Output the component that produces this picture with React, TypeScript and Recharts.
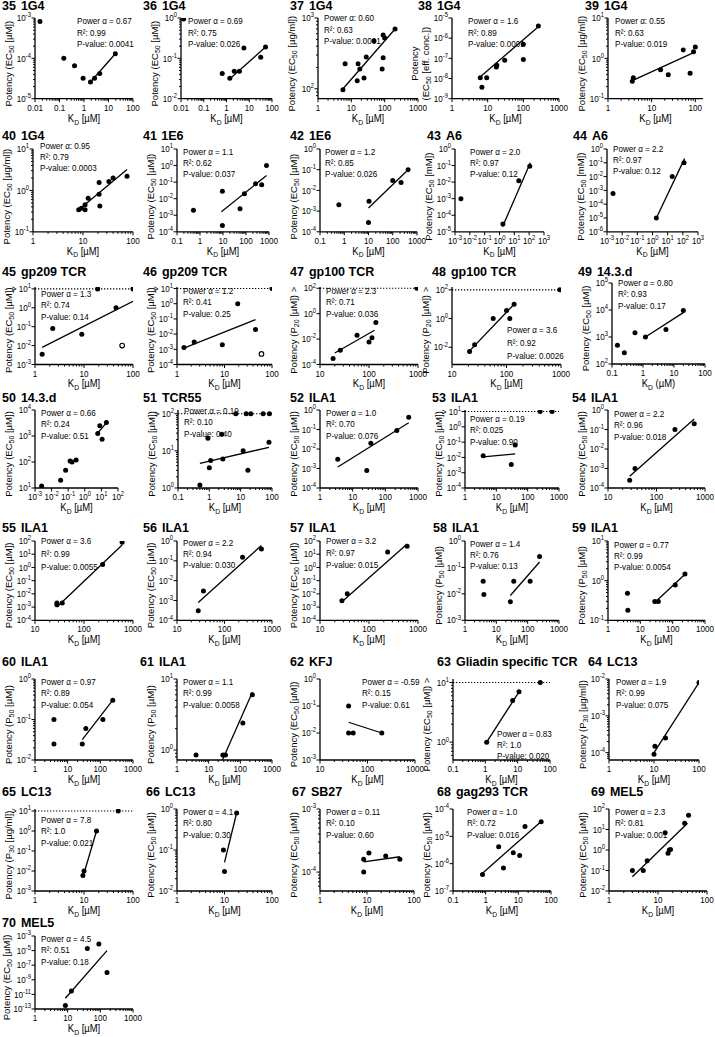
import { ScatterChart, Scatter, XAxis, YAxis, ReferenceLine } from 'recharts';

// Potency vs K_D panels 35–70. Each panel: [K_D, potency] points,
// f = end points of the drawn power-law fit, o = open (excluded) points.

type Pt = [number, number];

const d35: Pt[] = [[0.016, 8.2e-4], [0.15, 1.0e-4], [0.41, 6.6e-5], [0.92, 3.2e-5], [1.84, 2.6e-5], [2.7, 3.2e-5], [4.4, 4.2e-5], [19, 1.3e-4]];
const f35: Pt[] = [[1.84, 2.6e-5], [19, 1.3e-4]];
const d36: Pt[] = [[0.013, 0.94], [0.65, 0.042], [1.4, 0.032], [2.2, 0.048], [3.7, 0.048], [5.8, 0.18], [32, 0.106], [52, 0.19]];
const f36: Pt[] = [[1.3, 0.03], [52, 0.19]];
const d37: Pt[] = [[5.6, 97], [6.5, 225], [15, 130], [16, 225], [18, 190], [24, 142], [28, 282], [48, 475], [84, 190], [90, 275], [90, 575], [100, 520], [205, 700]];
const f37: Pt[] = [[5.3, 97], [205, 700]];
const d38: Pt[] = [[6.2, 1.1e-8], [6.9, 3.7e-9], [9.4, 1.1e-8], [17.5, 3.7e-8], [18, 4.5e-8], [30, 8e-8], [100, 5e-7], [100, 8.7e-8], [264, 4e-6]];
const f38: Pt[] = [[6.6, 1.35e-8], [240, 3.2e-6]];
const d39: Pt[] = [[3.6, 0.27], [3.8, 0.33], [16, 0.52], [24, 0.39], [53, 1.6], [76, 0.43], [91, 1.45], [100, 1.9]];
const f39: Pt[] = [[3.6, 0.28], [100, 1.45]];
const d40: Pt[] = [[8.2, 0.34], [9.3, 0.37], [11, 0.34], [11, 0.45], [12.7, 0.65], [21, 1.56], [21, 0.81], [21.7, 0.42], [33, 1.65], [40, 2.0], [76, 2.2]];
const f40: Pt[] = [[8, 0.33], [76, 3.2]];
const d41: Pt[] = [[0.52, 2e-3], [9.4, 0.028], [9.4, 2.4e-4], [55, 2.5e-3], [85, 0.02], [260, 0.08], [480, 0.07], [780, 1.0]];
const f41: Pt[] = [[8.5, 1.6e-3], [780, 0.25]];
const d42: Pt[] = [[0.6, 2e-3], [10.5, 3e-3], [10, 2.8e-4], [100, 0.03], [220, 0.024], [430, 0.1]];
const f42: Pt[] = [[10, 1.4e-3], [430, 0.1]];
const d43: Pt[] = [[0.0025, 1e-3], [1.7, 3e-5], [20, 0.012], [110, 0.09]];
const f43: Pt[] = [[1.6, 2e-5], [120, 0.15]];
const d44: Pt[] = [[0.0025, 5.9e-4], [1.8, 1e-5], [20, 1e-2], [120, 0.1]];
const f44: Pt[] = [[1.8, 1e-5], [130, 0.2]];
const d45: Pt[] = [[1.4, 3.5e-3], [2.3, 0.08], [9, 0.04], [19, 10], [45, 1.0], [100, 10]];
const o45: Pt[] = [[60, 0.01]];
const f45: Pt[] = [[1.4, 8e-3], [100, 2.2]];
const d46: Pt[] = [[1.4, 1.3e-3], [2.3, 3e-3], [9, 2e-3], [19, 1.0], [45, 0.02], [100, 10]];
const o46: Pt[] = [[60, 5e-4]];
const f46: Pt[] = [[1.4, 1.2e-3], [45, 0.09]];
const d47: Pt[] = [[18.5, 3e-4], [26, 1.3e-3], [57, 0.02], [100, 6e-3], [115, 0.013], [138, 0.2], [950, 100]];
const f47: Pt[] = [[20, 8e-4], [130, 0.05]];
const d48: Pt[] = [[21, 5e-3], [26, 0.015], [57, 1.0], [100, 3.6], [115, 1.0], [138, 10], [950, 100]];
const f48: Pt[] = [[20, 4.6e-3], [138, 10]];
const d49: Pt[] = [[0.15, 500], [0.25, 260], [0.55, 1450], [1.2, 1000], [5.5, 1900], [20, 9500]];
const f49: Pt[] = [[1.2, 1000], [20, 8000]];
const d50: Pt[] = [[0.0025, 12], [0.035, 20], [0.07, 48], [0.13, 110], [0.17, 100], [0.3, 120], [6, 1250], [8, 2500], [11, 750], [20, 3300]];
const f50: Pt[] = [[6, 1300], [20, 3200]];
const d51: Pt[] = [[0.5, 1.2], [0.9, 22], [1.0, 3.5], [1.1, 5.5], [2.5, 28], [2.7, 6], [12, 10], [17, 3], [80, 17], [7, 100], [15, 100], [21, 100], [52, 100], [83, 100]];
const f51: Pt[] = [[0.5, 4.6], [80, 12.5]];
const d52: Pt[] = [[3.5, 3e-3], [27, 8e-4], [36, 0.02], [225, 0.09], [520, 0.43]];
const f52: Pt[] = [[3.5, 1.2e-3], [520, 0.22]];
const d53: Pt[] = [[3.8, 0.013], [30, 3.5e-3], [40, 0.065], [250, 10], [600, 10]];
const f53: Pt[] = [[3.8, 0.011], [40, 0.017]];
const d54: Pt[] = [[28, 2.5e-4], [36, 1e-3], [240, 0.1], [600, 0.2]];
const f54: Pt[] = [[28, 4e-4], [600, 0.35]];
const d55: Pt[] = [[28, 2e-3], [28, 1.5e-3], [36, 2e-3], [240, 1.7], [600, 80]];
const f55: Pt[] = [[28, 1e-3], [600, 50]];
const d56: Pt[] = [[28, 3e-4], [36, 3e-3], [240, 0.15], [600, 0.4]];
const f56: Pt[] = [[28, 8e-4], [600, 0.6]];
const d57: Pt[] = [[28, 3e-3], [36, 1e-2], [240, 15], [600, 40]];
const f57: Pt[] = [[28, 2.5e-3], [600, 60]];
const d58: Pt[] = [[3.8, 0.03], [4, 0.0095], [28, 5e-3], [36, 0.03], [120, 0.03], [240, 0.26]];
const f58: Pt[] = [[28, 0.0087], [240, 0.16]];
const d59: Pt[] = [[4, 0.48], [4.1, 0.18], [28, 0.3], [36, 0.3], [120, 0.78], [240, 1.47]];
const f59: Pt[] = [[28, 0.28], [250, 1.5]];
const d60: Pt[] = [[3.8, 0.1], [3.8, 0.025], [28, 0.025], [36, 0.06], [120, 0.1], [240, 0.3]];
const f60: Pt[] = [[28, 0.032], [240, 0.3]];
const d61: Pt[] = [[4, 0.85], [28, 0.85], [34, 0.85], [120, 2.4], [240, 6]];
const f61: Pt[] = [[27, 0.72], [240, 6.5]];
const d62: Pt[] = [[40, 0.1], [40, 0.01], [50, 0.01], [200, 0.01]];
const f62: Pt[] = [[40, 0.025], [200, 0.01]];
const d63: Pt[] = [[1.1, 1.0], [7, 5], [11, 7], [50, 10]];
const f63: Pt[] = [[1.1, 1.0], [11, 7]];
const d64: Pt[] = [[10, 9e-5], [10.5, 1.5e-4], [18, 2.5e-4], [100, 8e-3]];
const f64: Pt[] = [[10, 1e-4], [100, 8e-3]];
const d65: Pt[] = [[9.5, 6e-3], [10, 1e-2], [18, 1.0], [50, 10]];
const f65: Pt[] = [[9.5, 5e-3], [18, 1.0]];
const d66: Pt[] = [[9.5, 0.1], [10, 0.03], [18, 0.8]];
const f66: Pt[] = [[10, 0.05], [18, 0.8]];
const d67: Pt[] = [[8.5, 1.6e-4], [8.5, 1e-4], [11, 2e-4], [25, 1.8e-4], [50, 1.6e-4]];
const f67: Pt[] = [[8.5, 1.45e-4], [50, 1.75e-4]];
const d68: Pt[] = [[0.8, 4e-7], [2.5, 4.2e-6], [3.5, 7e-7], [7, 2.5e-6], [11, 2e-6], [16, 2.3e-5], [50, 3.4e-5]];
const f68: Pt[] = [[0.8, 4.5e-7], [50, 3.5e-5]];
const d69: Pt[] = [[3, 0.1], [5, 0.1], [6, 0.3], [14, 7], [16, 0.7], [17, 1], [18, 1.05], [35, 20], [42, 50]];
const f69: Pt[] = [[3, 0.05], [40, 20]];
const d70: Pt[] = [[8.5, 3e-13], [13, 3e-11], [40, 2e-5], [90, 8e-5], [160, 1e-8]];
const f70: Pt[] = [[8.5, 3e-12], [160, 1e-5]];

// y-axis label variants
const EC_UM = { q: 'EC', s: '50', u: 'µM' };
const EC_UG = { q: 'EC', s: '50', u: 'µg/ml' };
const EC_MM = { q: 'EC', s: '50', u: 'mM' };
const EC_EFF = { q: 'EC', s: '50', u: 'eff. conc.', two: true };
const P20 = { q: 'P', s: '20', u: 'µM', gt: true };
const P50 = { q: 'P', s: '50', u: 'µM' };
const P30 = { q: 'P', s: '30', u: 'µg/ml' };
const EC_GT = { q: 'EC', s: '50', u: 'µM', gt: true };

const st = (a: string, r: string, p: string, colon = false) => [`Power α${colon ? ':' : ' ='} ${a}`, `R²: ${r}`, `P-value: ${p}`];

// xd / yd: log10 domain, yt: labelled y exponents (default every decade), cap: ">" limit line
const panels: any[] = [
  { id: 35, name: '1G4', d: d35, f: f35, xd: [-2, 2], yd: [-5, -3], yl: EC_UM, s: st('0.67', '0.99', '0.0041') },
  { id: 36, name: '1G4', d: d36, f: f36, xd: [-2, 2], yd: [-2, 0], yl: EC_UM, s: st('0.69', '0.75', '0.026') },
  { id: 37, name: '1G4', d: d37, f: f37, xd: [0, 3], yd: [1.86, 3], yt: [2, 3], yl: EC_UG, s: st('0.60', '0.63', '0.0001', true) },
  { id: 38, name: '1G4', d: d38, f: f38, xd: [0, 3], yd: [-9, -5], yl: EC_EFF, s: st('1.6', '0.89', '0.0001') },
  { id: 39, name: '1G4', d: d39, f: f39, xd: [0, Math.log10(150)], yd: [-1, 1], yl: EC_UG, s: st('0.55', '0.63', '0.019', true) },
  { id: 40, name: '1G4', d: d40, f: f40, xd: [0, 2], yd: [-1, 1], yl: EC_UG, s: st('0.95', '0.79', '0.0003', true) },
  { id: 41, name: '1E6', d: d41, f: f41, xd: [-1, 3], yd: [-4, 1], yl: EC_UM, s: st('1.1', '0.62', '0.037') },
  { id: 42, name: '1E6', d: d42, f: f42, xd: [-1, 3], yd: [-4, 0], yl: EC_UM, s: st('1.2', '0.85', '0.026') },
  { id: 43, name: 'A6', d: d43, f: f43, xd: [-3, 3], xPow: true, yd: [-5, 0], yl: EC_MM, s: st('2.0', '0.97', '0.12') },
  { id: 44, name: 'A6', d: d44, f: f44, xd: [-3, 3], xPow: true, yd: [-6, 0], yl: EC_MM, s: st('2.2', '0.97', '0.12') },
  { id: 45, name: 'gp209 TCR', d: d45, f: f45, o: o45, xd: [0, 2], yd: [-3, 1.1], yt: [-3, -2, -1, 0, 1], cap: 10, capTick: true, yl: EC_UM, s: st('1.3', '0.74', '0.14') },
  { id: 46, name: 'gp209 TCR', d: d46, f: f46, o: o46, xd: [0, 2], yd: [-4, 1.1], yt: [-4, -3, -2, -1, 0, 1], cap: 10, capTick: true, yl: EC_UM, s: st('1.2', '0.41', '0.25') },
  { id: 47, name: 'gp100 TCR', d: d47, f: f47, xd: [1, 3], yd: [-4, 2.1], yt: [-4, -2, 0, 2], cap: 100, yl: P20, s: st('2.3', '0.71', '0.036') },
  { id: 48, name: 'gp100 TCR', d: d48, f: f48, xd: [1, 3], yd: [-3.2, 2.2], yt: [-2, 0, 2], cap: 100, yl: P20, s: st('3.6', '0.92', '0.0026') },
  { id: 49, name: '14.3.d', d: d49, f: f49, xd: [-1, 2], yd: [2, 5], yl: EC_UM, paren: true, s: st('0.80', '0.93', '0.17') },
  { id: 50, name: '14.3.d', d: d50, f: f50, xd: [-3, 2], xPow: true, yd: [1, 4], yl: EC_UM, s: st('0.66', '0.24', '0.51') },
  { id: 51, name: 'TCR55', d: d51, f: f51, xd: [-1, 2], yd: [0, 2.1], yt: [0, 1, 2], cap: 100, capTick: true, yl: EC_UM, s: st('0.19', '0.10', '0.40') },
  { id: 52, name: 'ILA1', d: d52, f: f52, xd: [0, 3], yd: [-4, 0], yl: EC_UM, s: st('1.0', '0.70', '0.076') },
  { id: 53, name: 'ILA1', d: d53, f: f53, xd: [0, 3], yd: [-4, 1.1], yt: [-4, -3, -2, -1, 0, 1], cap: 10, capTick: true, yl: EC_UM, s: st('0.19', '0.025', '0.90') },
  { id: 54, name: 'ILA1', d: d54, f: f54, xd: [1, 3], yd: [-4, 0], yl: EC_UM, s: st('2.2', '0.96', '0.018') },
  { id: 55, name: 'ILA1', d: d55, f: f55, xd: [1, 3], yd: [-4, 2], yl: EC_UM, s: st('3.6', '0.99', '0.0055') },
  { id: 56, name: 'ILA1', d: d56, f: f56, xd: [1, 3], yd: [-4, 0], yl: EC_UM, s: st('2.2', '0.94', '0.030') },
  { id: 57, name: 'ILA1', d: d57, f: f57, xd: [1, 3], yd: [-4, 2], yl: EC_UM, s: st('3.2', '0.97', '0.015') },
  { id: 58, name: 'ILA1', d: d58, f: f58, xd: [0, 3], yd: [-3, 0], yl: P50, s: st('1.4', '0.76', '0.13') },
  { id: 59, name: 'ILA1', d: d59, f: f59, xd: [0, 3], yd: [-1, 1], yl: P50, s: st('0.77', '0.99', '0.0054') },
  { id: 60, name: 'ILA1', d: d60, f: f60, xd: [0, 3], yd: [-2, 0], yl: P50, s: st('0.97', '0.89', '0.054') },
  { id: 61, name: 'ILA1', d: d61, f: f61, xd: [0, 3], yd: [-0.14, 1], yt: [0, 1], yl: P50, s: st('1.1', '0.99', '0.0058') },
  { id: 62, name: 'KFJ', d: d62, f: f62, xd: [1, 3], yd: [-3, 0], yl: EC_UM, s: st('-0.59', '0.15', '0.61') },
  { id: 63, name: 'Gliadin specific TCR', d: d63, f: f63, xd: [-1, 2], yd: [-0.3, 1.06], yt: [0, 1], cap: 10, yl: EC_GT, s: st('0.83', '1.0', '0.020') },
  { id: 64, name: 'LC13', d: d64, f: f64, xd: [0, 2], yd: [-4.2, -2], yt: [-4, -3, -2], yl: P30, s: st('1.9', '0.99', '0.075') },
  { id: 65, name: 'LC13', d: d65, f: f65, xd: [0, 2], yd: [-3, 1.1], yt: [-3, -2, -1, 0, 1], cap: 10, capTick: true, yl: P30, s: st('7.8', '1.0', '0.021') },
  { id: 66, name: 'LC13', d: d66, f: f66, xd: [0, 2], yd: [-2, 0], yl: EC_UM, s: st('4.1', '0.80', '0.30') },
  { id: 67, name: 'SB27', d: d67, f: f67, xd: [0, 2], yd: [-4.3, -3], yt: [-4, -3], yl: EC_UM, s: st('0.11', '0.10', '0.60') },
  { id: 68, name: 'gag293 TCR', d: d68, f: f68, xd: [-1, 2], yd: [-7, -4], yl: EC_UM, s: st('1.0', '0.72', '0.016') },
  { id: 69, name: 'MEL5', d: d69, f: f69, xd: [0, 2], yd: [-2, 2], yl: EC_UM, s: st('2.3', '0.81', '0.001') },
  { id: 70, name: 'MEL5', d: d70, f: f70, xd: [0, 3], yd: [-13, -3], yt: [-13, -11, -9, -7, -5, -3], yl: EC_UM, s: st('4.5', '0.51', '0.18') },
];

// ---- layout (page px) ----
const rows = [
  { ty: 9.5, top: 18.3, bot: 99, yc: 5 },
  { ty: 139.5, top: 148.7, bot: 231.5, yc: 6.5 },
  { ty: 276, top: 286.5, bot: 364, yc: 5 },
  { ty: 402, top: 410, bot: 488, yc: 5 },
  { ty: 532, top: 540.7, bot: 620, yc: 5 },
  { ty: 666, top: 679, bot: 760, yc: 5 },
  { ty: 796, top: 809, bot: 891, yc: 5 },
  { ty: 927, top: 936, bot: 1009, yc: 5 },
];
const cols = [
  { tx: 2, left: 35, right: 133 },
  { tx: 143, left: 177, right: 272 },
  { tx: 290, left: 320, right: 418 },
  { tx: 430, left: 463, right: 559 },
  { tx: 573, left: 608, right: 705 },
];
const geoFix: Record<number, any> = {
  35: { ax: 42 },
  36: { left: 181, ax: 7 },
  37: { left: 318, ay: 3 },
  38: { tx: 418, left: 452, right: 559, ax: 16 },
  39: { tx: 585, right: 703, ax: 7 },
  40: { left: 33, ay: 0, ax: 7 },
  41: { right: 269 },
  42: { right: 417, ax: 5 },
  43: { tx: 427, left: 455, right: 544, ax: 15 },
  44: { tx: 573, left: 607, right: 698, ay: 3 },
  45: { ay: 10.5 },
  46: { ay: 7.5 },
  47: { ay: 7.5 },
  48: { tx: 432, left: 452, right: 561, sx: 507, sy: 333, sp: 13 },
  49: { tx: 578, left: 612, top: 283, ay: 3 },
  50: { right: 118 },
  51: { left: 178, ay: 4 },
  53: { tx: 432, left: 465, ax: 5, ay: 12 },
  54: { tx: 572, ay: 7 },
  55: { ay: 3, sp: 13 },
  56: { ay: 5 },
  57: { ay: 3, sp: 12 },
  58: { tx: 433, left: 465, ax: 5 },
  59: { tx: 572, ay: 7 },
  61: { tx: 140 },
  62: { right: 415, ax: 42 },
  63: { tx: 437, left: 453, right: 550, sx: 497, sy: 737, sp: 11 },
  64: { tx: 588, left: 609, right: 699, ax: 7 },
  65: { ay: 14 },
  66: { tx: 146 },
  67: { tx: 292, right: 414 },
  68: { tx: 437, left: 453, right: 551, ax: 14 },
  69: { tx: 591, left: 609, right: 707 },
  70: { ylo: 25 },
};

const geoOf = (id: number, i: number) => ({
  ...rows[Math.floor(i / 5)],
  ...cols[i % 5],
  ax: 6,
  ay: 6,
  sp: 11.3,
  ylo: 23,
  ...(geoFix[id] || {}),
});

const FONT = "'Liberation Sans', Arial, Helvetica, sans-serif";
const SX = 0.9;

const range = (a: number, b: number, step = 1) => {
  const out: number[] = [];
  for (let v = a; v <= b + 1e-9; v += step) out.push(v);
  return out;
};

function logTicks(d: number[], maj: number[], minor: boolean) {
  const out: number[] = [];
  for (let e = Math.floor(d[0]); e <= Math.ceil(d[1]); e++) {
    if (maj.includes(e)) out.push(Math.pow(10, e));
    if (minor) for (let k = 2; k <= 9; k++) out.push(k * Math.pow(10, e));
  }
  const lo = Math.pow(10, d[0]) * 0.9999;
  const hi = Math.pow(10, d[1]) * 1.0001;
  return out.filter((v) => v >= lo && v <= hi);
}

const majorExp = (v: number, maj: number[]) => {
  const e = Math.log10(v);
  const r = Math.round(e);
  return Math.abs(e - r) < 1e-6 && maj.includes(r) ? r : null;
};

const decLabel = (e: number) => (e < 0 ? '0.' + '0'.repeat(-e - 1) + '1' : '1' + '0'.repeat(e));

function XTick(props: any) {
  const { x, y, payload, maj, pow } = props;
  const e = majorExp(payload.value, maj);
  return (
    <g>
      <line x1={x} x2={x} y1={y} y2={y + (e === null ? 2 : 3.5)} stroke="#000" strokeWidth={1} />
      {e !== null && (
        <text transform={`translate(${x} ${y + 12}) scale(${SX} 1)`} textAnchor="middle" fontSize={9} fontFamily={FONT} fill="#000">
          {pow ? (
            <>
              10<tspan dy={-3.8} fontSize={6.5}>{e}</tspan>
            </>
          ) : (
            decLabel(e)
          )}
        </text>
      )}
    </g>
  );
}

function YTick(props: any) {
  const { x, y, payload, maj, gtExp } = props;
  const e = majorExp(payload.value, maj);
  return (
    <g>
      <line x1={x} x2={x - (e === null ? 2 : 3.5)} y1={y} y2={y} stroke="#000" strokeWidth={1} />
      {e !== null && (
        <text transform={`translate(${x - 4} ${y + 3.2}) scale(${SX} 1)`} textAnchor="end" fontSize={9} fontFamily={FONT} fill="#000">
          {e === gtExp ? '> ' : ''}10<tspan dy={-3.8} fontSize={6.5}>{e}</tspan>
        </text>
      )}
    </g>
  );
}

const Dot = (p: any) => <circle cx={p.cx} cy={p.cy} r={2.5} fill="#000" />;
const Ring = (p: any) => <circle cx={p.cx} cy={p.cy} r={2.3} fill="#fff" stroke="#000" strokeWidth={1.1} />;
const NoDot = () => <g />;

const toXY = (a: Pt[]) => a.map(([x, y]) => ({ x, y }));

function Panel({ p, g }: { p: any; g: any }) {
  const L = 42;
  const T = 8;
  const R = 12;
  const B = 28;
  const w = g.right - g.left;
  const h = g.bot - g.top;
  const xMaj = range(Math.ceil(p.xd[0] - 1e-9), Math.floor(p.xd[1] + 1e-9));
  const yMaj = p.yt || range(Math.ceil(p.yd[0] - 1e-9), Math.floor(p.yd[1] + 1e-9));
  const xMinor = w / (p.xd[1] - p.xd[0]) > 18;
  const yMinor = p.yd[1] - p.yd[0] <= 2.2;
  const xTicks = logTicks(p.xd, xMaj, xMinor);
  const yTicks = logTicks(p.yd, yMaj, yMinor);
  const gtExp = p.capTick ? Math.round(Math.log10(p.cap)) : null;
  return (
    <div style={{ position: 'absolute', left: g.left - L, top: g.top - T }}>
      <ScatterChart width={w + L + R} height={h + T + B} margin={{ top: T, right: R, bottom: 0, left: 0 }} style={{ overflow: 'visible' }}>
        <XAxis
          type="number"
          dataKey="x"
          scale="log"
          domain={[Math.pow(10, p.xd[0]), Math.pow(10, p.xd[1])]}
          allowDataOverflow
          ticks={xTicks}
          interval={0}
          height={B}
          tickSize={0}
          tickMargin={0}
          tickLine={false}
          axisLine={{ stroke: '#000', strokeWidth: 1.3 }}
          tick={(tp: any) => <XTick {...tp} maj={xMaj} pow={p.xPow} />}
        />
        <YAxis
          type="number"
          dataKey="y"
          scale="log"
          domain={[Math.pow(10, p.yd[0]), Math.pow(10, p.yd[1])]}
          allowDataOverflow
          ticks={yTicks}
          interval={0}
          width={L}
          tickSize={0}
          tickMargin={0}
          tickLine={false}
          axisLine={{ stroke: '#000', strokeWidth: 1.3 }}
          tick={(tp: any) => <YTick {...tp} maj={yMaj} gtExp={gtExp} />}
        />
        {p.cap && <ReferenceLine y={p.cap} stroke="#000" strokeWidth={1.1} strokeDasharray="1.3 1.7" />}
        <Scatter data={toXY(p.f)} line={{ stroke: '#000', strokeWidth: 1.3 }} shape={NoDot} isAnimationActive={false} />
        <Scatter data={toXY(p.d)} shape={Dot} isAnimationActive={false} />
        {p.o && <Scatter data={toXY(p.o)} shape={Ring} isAnimationActive={false} />}
      </ScatterChart>
    </div>
  );
}

function Labels({ p, g }: { p: any; g: any }) {
  const cx = (g.left + g.right) / 2;
  const cy = (g.top + g.bot) / 2 + g.yc;
  const ylx = g.left - g.ylo;
  const yl = p.yl;
  const sx = g.sx ?? g.left + g.ax;
  const sy = g.sy ?? g.top + g.ay;
  const YF = 9.5;
  const potency = (
    <>
      ({yl.q}
      <tspan dy={2.4} fontSize={7}>{yl.s}</tspan>
      <tspan dy={-2.4}>{` [${yl.u}])${yl.gt ? ' >' : ''}`}</tspan>
    </>
  );
  return (
    <g fill="#000" fontFamily={FONT}>
      <text x={g.tx} y={g.ty} fontSize={12.5} fontWeight="bold">
        {p.id}
        <tspan dx={5}>{p.name}</tspan>
      </text>
      {yl.two ? (
        <>
          <text transform={`translate(${ylx - 11} ${cy}) rotate(-90)`} textAnchor="middle" fontSize={YF}>Potency</text>
          <text transform={`translate(${ylx} ${cy}) rotate(-90)`} textAnchor="middle" fontSize={YF}>{potency}</text>
        </>
      ) : (
        <text transform={`translate(${ylx} ${cy}) rotate(-90)`} textAnchor="middle" fontSize={YF}>
          Potency {potency}
        </text>
      )}
      <text transform={`translate(${cx} ${g.bot + 23}) scale(${SX} 1)`} textAnchor="middle" fontSize={10.5}>
        K<tspan dy={2.6} fontSize={7.5}>D</tspan>
        <tspan dy={-2.6}>{p.paren ? ' (µM)' : ' [µM]'}</tspan>
      </text>
      {p.s.map((line: string, k: number) => (
        <text key={k} transform={`translate(${sx} ${sy + k * g.sp}) scale(${SX} 1)`} fontSize={9}>
          {line}
        </text>
      ))}
    </g>
  );
}

export default function App() {
  return (
    <div style={{ position: 'absolute', left: 0, top: 0, width: 715, height: 1037, background: '#fff', overflow: 'hidden' }}>
      {panels.map((p, i) => (
        <Panel key={p.id} p={p} g={geoOf(p.id, i)} />
      ))}
      <svg width={715} height={1037} style={{ position: 'absolute', left: 0, top: 0, pointerEvents: 'none' }}>
        {panels.map((p, i) => (
          <Labels key={p.id} p={p} g={geoOf(p.id, i)} />
        ))}
      </svg>
    </div>
  );
}
